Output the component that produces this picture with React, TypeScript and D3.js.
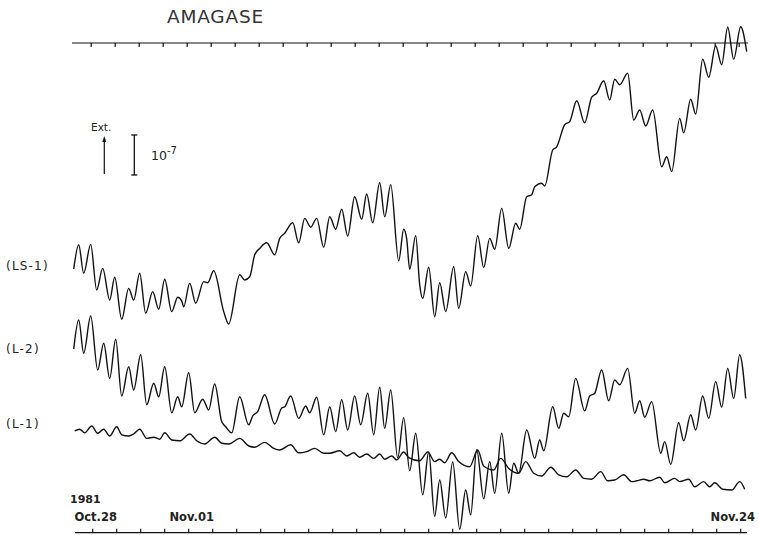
import React from "react";
import { scaleLinear, line, curveMonotoneX } from "d3";

// hours since Oct.28 00:00, strain in units of 1e-8
const ls1Hours = [-19, -14, -9, -2, 4, 10, 17, 22, 29, 36, 41, 47, 53, 60, 66, 72, 79, 85, 89, 91, 97, 103, 111, 115, 121, 131, 136, 147, 152, 157, 162, 167, 174, 182, 187, 192, 200, 206, 212, 218, 224, 231, 237, 243, 249, 255, 262, 269, 274, 280, 287, 292, 298, 306, 311, 314, 317, 323, 327, 330, 336, 342, 347, 353, 361, 366, 373, 378, 385, 391, 397, 402, 409, 416, 423, 427, 434, 439, 442, 449, 452, 460, 464, 472, 477, 484, 492, 499, 504, 511, 517, 522, 527, 535, 541, 547, 553, 560, 569, 574, 579, 587, 591, 598, 603, 610, 616, 623, 629, 635, 641, 648, 654];
const ls1Values = [65.7, 71.8, 64.7, 71.9, 60.5, 65.9, 58, 63.7, 53.2, 60.9, 58, 64.7, 54.7, 60.1, 55.7, 63.2, 55.1, 58.7, 57.8, 56.3, 62.2, 57.2, 62.6, 62.3, 65.3, 55.1, 52, 64.3, 63, 63.8, 69.3, 70.9, 72.3, 69.3, 73.4, 74.7, 77.3, 72.3, 78.4, 76.2, 78.4, 71.2, 78.8, 75.7, 80.7, 74, 83.8, 78.2, 84.5, 77.3, 87.3, 78.8, 86.8, 67.8, 75.7, 73.3, 65.7, 74.1, 61.8, 58.4, 66.2, 53.8, 62.3, 55.1, 66.3, 55.9, 65.1, 61.5, 74.1, 66.1, 73.4, 70.7, 80.9, 70.9, 77.2, 75.7, 83.8, 84.3, 86.3, 87.2, 86.5, 95.5, 96.3, 101.8, 102.6, 107.8, 102.3, 108.7, 109.7, 112.8, 108, 113.2, 111.8, 114.7, 103, 105.5, 101.5, 105.5, 91.3, 93.8, 90.1, 103.4, 99.8, 108.2, 104.5, 118.2, 113.7, 121.5, 116.8, 126.2, 118.2, 126.3, 120.1];

const l2Hours = [-19, -14, -9, -2, 5, 11, 17, 23, 29, 36, 41, 48, 54, 61, 66, 72, 79, 85, 89, 96, 102, 110, 116, 122, 129, 133, 139, 147, 156, 160, 165, 172, 182, 189, 192, 198, 206, 213, 217, 224, 231, 237, 243, 249, 255, 262, 268, 275, 281, 287, 292, 298, 305, 311, 317, 323, 330, 336, 342, 347, 353, 360, 367, 373, 378, 384, 391, 397, 402, 409, 416, 421, 426, 434, 442, 447, 451, 460, 466, 471, 476, 483, 492, 497, 502, 509, 516, 522, 527, 535, 542, 547, 552, 559, 568, 572, 578, 586, 591, 598, 603, 610, 616, 623, 629, 635, 641, 647, 653];
const l2Values = [45.7, 53, 44.7, 54, 40.5, 47.2, 38.4, 48.2, 34, 41.3, 35.5, 44.3, 31.8, 37.2, 33.8, 41.3, 29.8, 33.8, 31.3, 39.8, 29.8, 33.2, 30.5, 37, 27.6, 26.3, 24.8, 33.8, 26.8, 29, 30.1, 34.3, 27, 31, 31.3, 34, 28.4, 31.5, 29.8, 33.7, 24.3, 31.3, 25.1, 33.1, 25.5, 34, 26.8, 34.7, 24.3, 36.2, 25.9, 35.5, 18.5, 28.6, 15.3, 24.7, 9.3, 20, 3.9, 13, 3.5, 17.5, 0.7, 10.5, 4.3, 20.6, 8.3, 17.6, 9.7, 24.7, 9.7, 17.2, 14.7, 25.5, 18.4, 23, 20.3, 31.3, 25.9, 29.7, 28.8, 38.4, 30.3, 34, 34.7, 40.5, 32.8, 38, 36.8, 40.9, 29.7, 32.8, 28.7, 32.6, 19.7, 22.6, 16.9, 27.3, 22.8, 29.3, 25.5, 34, 28.4, 37.6, 31.2, 40.9, 33.4, 44.3, 33.4];

const l1Hours = [-18, -13, -8, -1, 5, 11, 17, 24, 29, 36, 41, 47, 54, 61, 67, 72, 79, 87, 97, 104, 112, 122, 129, 136, 147, 156, 162, 172, 181, 187, 198, 206, 214, 222, 231, 237, 247, 254, 261, 267, 274, 281, 287, 292, 299, 304, 311, 316, 327, 335, 342, 347, 352, 359, 366, 377, 385, 391, 401, 408, 416, 426, 433, 441, 449, 458, 466, 474, 483, 491, 499, 508, 515, 522, 531, 539, 544, 551, 557, 567, 572, 582, 587, 596, 602, 611, 617, 622, 630, 639, 647, 652];
const l1Values = [25.3, 25.7, 24.8, 26.5, 24.7, 25.7, 24, 26.3, 24.3, 24, 24.5, 25.7, 23.4, 23.7, 23.2, 24.8, 23, 22.8, 24.5, 22.8, 22, 23.7, 22.2, 22, 23.4, 21.5, 21.2, 22.4, 20.9, 20.5, 21.8, 19.8, 20.1, 20.9, 19.7, 19.7, 20.3, 19, 19.8, 18.7, 19.5, 18.4, 19.5, 18.2, 19, 18, 20, 18.6, 17.8, 20, 17.6, 18.2, 17.3, 19.8, 17.6, 16.3, 20.5, 16.5, 15.5, 18.4, 15.9, 14.7, 17.6, 14.7, 14, 16.2, 14.3, 13.8, 15.5, 13.4, 13.2, 15.1, 12.8, 13, 14.3, 12.6, 12.8, 13.2, 12.8, 13.7, 12.3, 13.4, 12.6, 13.2, 11.3, 12.6, 11.3, 12.3, 10.7, 10.5, 12.6, 10.7];

const traceLabels = ["(LS-1)", "(L-2)", "(L-1)"];
const dayTicks = Array.from({ length: 28 }, (_, i) => i * 24);
const dateLabels = ["Oct.28", "Nov.01", "Nov.24"];
const dateHours = [0, 96, 648];

const App = () => {
  const width = 759;
  const height = 535;
  const font = "'DejaVu Sans', sans-serif";

  const xScale = scaleLinear().domain([0, 648]).range([92.7, 740.7]);
  const yScale = scaleLinear().domain([0, 10]).range([532, 492]);

  const series = [
    { hours: ls1Hours, values: ls1Values },
    { hours: l2Hours, values: l2Values },
    { hours: l1Hours, values: l1Values },
  ];

  const gen = line().curve(curveMonotoneX);
  const paths = series.map((s, i) => {
    const pts: [number, number][] = s.hours.map((h, j) => [xScale(h), yScale(s.values[j])]);
    return (
      <path key={i} d={gen(pts) || ""} fill="none" stroke="#111" strokeWidth={1.4} strokeLinejoin="round" />
    );
  });

  const topY = 43;
  const botY = 532.7;
  const barLen = yScale(0) - yScale(10);

  return (
    <svg
      width={width}
      height={height}
      viewBox={`0 0 ${width} ${height}`}
      style={{ position: "absolute", left: 0, top: 0, background: "#fff" }}
    >
      <text x={167} y={23} fontFamily={font} fontSize={18.5} fill="#333" letterSpacing={0.8}>
        AMAGASE
      </text>

      {/* top axis */}
      <line x1={72} x2={748} y1={topY} y2={topY} stroke="#111" strokeWidth={1.2} />
      {dayTicks.map((t) => (
        <line key={t} x1={xScale(t) - 1.5} x2={xScale(t) - 1.5} y1={topY} y2={topY + 4} stroke="#111" strokeWidth={1.2} />
      ))}

      {/* bottom axis */}
      <line x1={75} x2={747} y1={botY} y2={botY} stroke="#111" strokeWidth={1.2} />
      {dayTicks.map((t) => (
        <line key={t} x1={xScale(t)} x2={xScale(t)} y1={botY} y2={botY - 4} stroke="#111" strokeWidth={1.2} />
      ))}

      {/* legend */}
      <text x={91} y={131} fontFamily={font} fontSize={10.5} fill="#222">Ext.</text>
      <line x1={104.3} x2={104.3} y1={140} y2={174} stroke="#111" strokeWidth={1.2} />
      <path d="M104.3,136 L102.3,142 L106.3,142 Z" fill="#111" />
      <line x1={134.3} x2={134.3} y1={135} y2={135 + barLen} stroke="#111" strokeWidth={1.3} />
      <line x1={131.3} x2={137.3} y1={135} y2={135} stroke="#111" strokeWidth={1.3} />
      <line x1={131.3} x2={137.3} y1={135 + barLen} y2={135 + barLen} stroke="#111" strokeWidth={1.3} />
      <text x={151} y={160} fontFamily={font} fontSize={12.5} fill="#222">
        10
        <tspan dy={-6} fontSize={10}>-7</tspan>
      </text>

      {paths}

      {/* trace labels */}
      {traceLabels.map((l, i) => (
        <text key={l} x={6} y={[270, 353, 428][i]} fontFamily={font} fontSize={12} fill="#222" letterSpacing={1.2}>
          {l}
        </text>
      ))}

      <text x={70} y={503} fontFamily={font} fontSize={11} fontWeight="bold" fill="#222">1981</text>
      {dateLabels.map((d, i) => (
        <text
          key={d}
          x={i === 2 ? 755 : xScale(dateHours[i]) + 3}
          y={521}
          textAnchor={i === 2 ? "end" : "middle"}
          fontFamily={font}
          fontSize={11.5}
          fontWeight="bold"
          fill="#222"
        >
          {d}
        </text>
      ))}
    </svg>
  );
};

export default App;
